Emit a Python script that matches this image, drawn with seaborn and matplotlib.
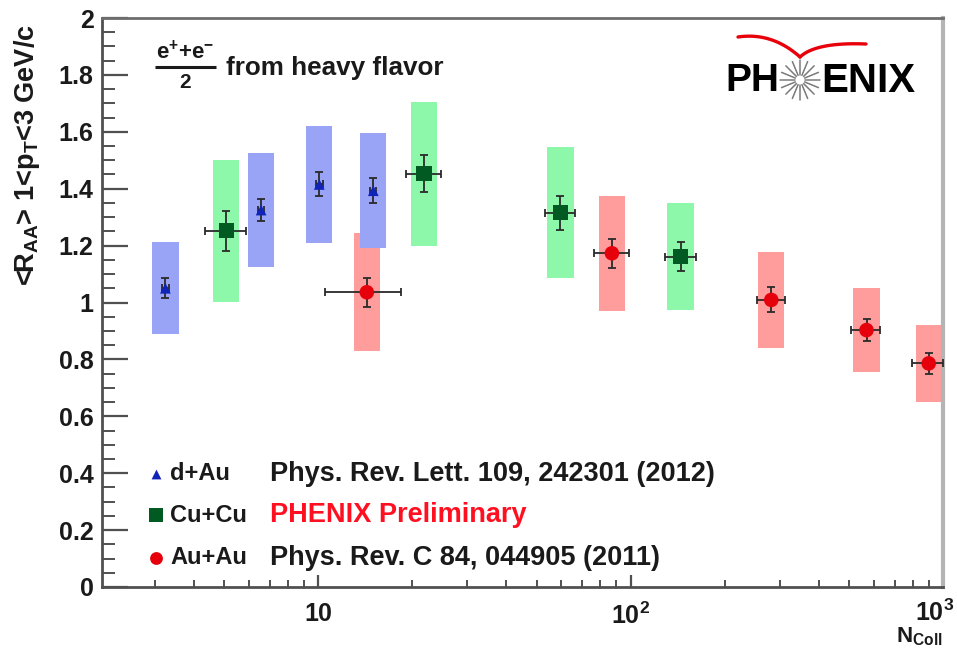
import numpy as np
import pandas as pd
import matplotlib
matplotlib.use("Agg")
import matplotlib.pyplot as plt
import matplotlib.transforms as mtransforms
from matplotlib.ticker import FixedLocator, FixedFormatter, MultipleLocator, NullFormatter
import seaborn as sns

# ---- data: heavy-flavour electron <R_AA> (1 < pT < 3 GeV/c) vs N_coll ----
systems = ["d+Au", "Cu+Cu", "Au+Au"]
references = ["Phys. Rev. Lett. 109, 242301 (2012)",
              "PHENIX Preliminary",
              "Phys. Rev. C 84, 044905 (2011)"]

dau_ncoll = [3.24, 6.56, 10.07, 15.0]
dau_raa = [1.050, 1.325, 1.415, 1.393]
dau_stat = [0.035, 0.038, 0.042, 0.043]
dau_sys = [0.162, 0.200, 0.207, 0.202]
dau_xerr_lo = [0.08, 0.16, 0.25, 0.35]
dau_xerr_hi = [0.08, 0.16, 0.25, 0.35]

cucu_ncoll = [5.07, 21.8, 59.6, 144.5]
cucu_raa = [1.252, 1.453, 1.316, 1.161]
cucu_stat = [0.070, 0.065, 0.060, 0.051]
cucu_sys = [0.250, 0.253, 0.230, 0.187]
cucu_xerr_lo = [0.72, 2.7, 6.6, 15.5]
cucu_xerr_hi = [0.82, 2.9, 6.9, 17.5]

auau_ncoll = [14.3, 87.1, 282.0, 569.0, 900.0]
auau_raa = [1.036, 1.173, 1.009, 0.903, 0.786]
auau_stat = [0.051, 0.051, 0.044, 0.040, 0.038]
auau_sys = [0.208, 0.203, 0.170, 0.148, 0.135]
auau_xerr_lo = [3.8, 11.0, 29.0, 62.0, 104.0]
auau_xerr_hi = [4.1, 12.0, 31.0, 59.0, 100.0]

y_tick_values = [0, 0.2, 0.4, 0.6, 0.8, 1, 1.2, 1.4, 1.6, 1.8, 2]
y_tick_labels = ["0", "0.2", "0.4", "0.6", "0.8", "1", "1.2", "1.4", "1.6", "1.8", "2"]
x_tick_values = [10, 100, 1000]
x_tick_labels = ["10", "$10^{2}$", "$10^{3}$"]

frames = []
for name, n, r, st, sy, xl, xh in [
    ("d+Au", dau_ncoll, dau_raa, dau_stat, dau_sys, dau_xerr_lo, dau_xerr_hi),
    ("Cu+Cu", cucu_ncoll, cucu_raa, cucu_stat, cucu_sys, cucu_xerr_lo, cucu_xerr_hi),
    ("Au+Au", auau_ncoll, auau_raa, auau_stat, auau_sys, auau_xerr_lo, auau_xerr_hi),
]:
    frames.append(pd.DataFrame({"system": name, "ncoll": n, "raa": r, "stat": st,
                                "sys": sy, "xlo": xl, "xhi": xh}))
df = pd.concat(frames, ignore_index=True)

# ---- style ----
sns.set_theme(style="white")
plt.rcParams["font.family"] = ["Liberation Sans", "DejaVu Sans"]
plt.rcParams["font.weight"] = "bold"
plt.rcParams["mathtext.default"] = "regular"

marker_colors = {"d+Au": "#1024b8", "Cu+Cu": "#005a22", "Au+Au": "#e6000c"}
box_colors = {"d+Au": "#9aa4f6", "Cu+Cu": "#8ef8aa", "Au+Au": "#ff9c9c"}
markers = {"d+Au": "^", "Cu+Cu": "s", "Au+Au": "o"}
marker_sizes = {"d+Au": 60, "Cu+Cu": 120, "Au+Au": 110}
axis_gray = "#505050"
text_black = "#1a1a1a"

W, H = 957, 649
fig = plt.figure(figsize=(W / 100, H / 100), dpi=100)
ax = fig.add_axes([102 / W, 1 - 587 / H, 841 / W, 569 / H])
ax.set_xscale("log")
ax.set_xlim(2.03, 1000)
ax.set_ylim(0, 2)

# systematic-uncertainty boxes, fixed width in log(N_coll)
BOX_HALF_DECADES = 0.042
for name in ["Au+Au", "Cu+Cu", "d+Au"]:
    d = df[df.system == name]
    left = d.ncoll * 10 ** (-BOX_HALF_DECADES)
    right = d.ncoll * 10 ** (BOX_HALF_DECADES)
    ax.bar(left, 2 * d.sys, width=right - left, bottom=d.raa - d.sys,
           align="edge", color=box_colors[name], linewidth=0, zorder=1)

# statistical errors and N_coll uncertainties
for name in systems:
    d = df[df.system == name]
    ax.errorbar(d.ncoll, d.raa, yerr=d.stat, xerr=[d.xlo, d.xhi], fmt="none",
                ecolor="#2a2a2a", elinewidth=1.3, capsize=3, capthick=1.3, zorder=3)

sns.scatterplot(data=df, x="ncoll", y="raa", hue="system", style="system",
                size="system", sizes=marker_sizes, markers=markers,
                palette=marker_colors, linewidth=0, legend=False, ax=ax, zorder=4)

# ---- axes cosmetics ----
for side in ["left", "bottom"]:
    ax.spines[side].set_color(axis_gray)
    ax.spines[side].set_linewidth(2.0)
ax.spines["top"].set_color("#6e6e6e")
ax.spines["top"].set_linewidth(2.0)
ax.spines["right"].set_color("#b4b4b4")
ax.spines["right"].set_linewidth(3.0)

ax.yaxis.set_major_locator(FixedLocator(y_tick_values))
ax.yaxis.set_major_formatter(FixedFormatter(y_tick_labels))
ax.yaxis.set_minor_locator(MultipleLocator(0.05))
ax.xaxis.set_major_locator(FixedLocator(x_tick_values))
ax.xaxis.set_major_formatter(FixedFormatter(x_tick_labels))
minor_x = [m * 10 ** e for e in range(0, 3) for m in range(2, 10) if 2.03 < m * 10 ** e < 1000]
ax.xaxis.set_minor_locator(FixedLocator(minor_x))
ax.xaxis.set_minor_formatter(NullFormatter())

ax.tick_params(axis="y", which="major", direction="in", length=19, width=1.6,
               color=axis_gray, labelsize=18, pad=6, left=True, right=False)
ax.tick_params(axis="y", which="minor", direction="in", length=9.5, width=1.4,
               color=axis_gray, left=True, right=False)
ax.tick_params(axis="x", which="major", direction="in", length=9, width=1.6,
               color=axis_gray, labelsize=18, pad=11, bottom=True, top=False)
ax.tick_params(axis="x", which="minor", direction="in", length=5, width=1.4,
               color=axis_gray, bottom=True, top=False)
for lab in ax.get_xticklabels() + ax.get_yticklabels():
    lab.set_fontweight("bold")
    lab.set_color(text_black)
# the label at the right end of the axis sits slightly inside the frame
last = ax.get_xticklabels()[-1]
last.set_transform(last.get_transform() +
                   mtransforms.ScaledTranslation(-8 / 100, 3 / 100, fig.dpi_scale_trans))

ax.set_xlabel("")
ax.set_ylabel(r"<R$_{AA}$> 1<p$_{T}$<3 GeV/c", fontsize=19.5, fontweight="bold",
              color=text_black, loc="top")
ax.yaxis.set_label_coords(-0.071, 0.99)
ax.text(1.0, (587 - 642) / 569, r"N$_{Coll}$", transform=ax.transAxes, ha="right",
        va="baseline", fontsize=16, fontweight="bold", color=text_black)


def ax_frac(px, py):
    return (px - 102) / 841, (587 - py) / 569


# heading: (e+ + e-)/2 from heavy flavor
nx, ny = ax_frac(185, 52)
ax.text(nx, ny, r"e$^{+}$+e$^{-}$", transform=ax.transAxes, ha="center", va="center",
        fontsize=16, fontweight="bold", color=text_black)
dx, dy = ax_frac(185, 82)
ax.text(dx, dy, "2", transform=ax.transAxes, ha="center", va="center",
        fontsize=15, fontweight="bold", color=text_black)
b0, by = ax_frac(155, 66.5)
b1, _ = ax_frac(216, 66.5)
ax.plot([b0, b1], [by, by], transform=ax.transAxes, color=text_black, lw=2.2,
        solid_capstyle="butt", clip_on=False)
hx, hy = ax_frac(226, 68)
ax.text(hx, hy, "from heavy flavor", transform=ax.transAxes, ha="left", va="center",
        fontsize=18.8, fontweight="bold", color=text_black)

# legend rows
row_y = [474, 515, 558]
legend_sizes = {"d+Au": 50, "Cu+Cu": 90, "Au+Au": 85}
for i, name in enumerate(systems):
    mx, my = ax_frac(156, row_y[i])
    ax.scatter([mx], [my], transform=ax.transAxes, marker=markers[name],
               s=legend_sizes[name], color=marker_colors[name], linewidth=0,
               zorder=5, clip_on=False)
    tx, ty = ax_frac(170, row_y[i])
    ax.text(tx, ty, name, transform=ax.transAxes, ha="left", va="center",
            fontsize=17, fontweight="bold", color=text_black)
    rx, ry = ax_frac(270, row_y[i])
    ax.text(rx, ry, references[i], transform=ax.transAxes, ha="left", va="center",
            fontsize=19.5, fontweight="bold",
            color="#ff1020" if i == 1 else text_black)


# PHENIX logo
def fig_frac(px, py):
    return px / W, 1 - py / H


lx, ly = fig_frac(779, 81)
fig.text(lx, ly, "PH", ha="right", va="center", fontsize=28, fontweight="bold", color="black")
lx, ly = fig_frac(821, 81)
fig.text(lx, ly, "ENIX", ha="left", va="center", fontsize=29, fontweight="bold", color="black")
cx, cy = 800, 80
for k in range(16):
    a = 2 * np.pi * k / 16
    x0, y0 = cx + 5 * np.cos(a), cy + 5 * np.sin(a)
    x1, y1 = cx + 20 * np.cos(a), cy + 20 * np.sin(a)
    p0, p1 = fig_frac(x0, y0), fig_frac(x1, y1)
    fig.add_artist(plt.Line2D([p0[0], p1[0]], [p0[1], p1[1]], transform=fig.transFigure,
                              color="#7a7a7a", linewidth=1.1))
# red swoosh above the logo
t = np.linspace(0, 1, 40)
left_arc = [(1 - t) ** 2 * 738 + 2 * (1 - t) * t * 772 + t ** 2 * 800,
            (1 - t) ** 2 * 37 + 2 * (1 - t) * t * 32 + t ** 2 * 57]
right_arc = [(1 - t) ** 2 * 800 + 2 * (1 - t) * t * 816 + t ** 2 * 866,
             (1 - t) ** 2 * 57 + 2 * (1 - t) * t * 42 + t ** 2 * 44]
for xs, ys in [left_arc, right_arc]:
    fig.add_artist(plt.Line2D(xs / W, 1 - ys / H, transform=fig.transFigure,
                              color="#e8000a", linewidth=2.4, solid_capstyle="round"))

fig.savefig("out.png", dpi=100, facecolor="white")
